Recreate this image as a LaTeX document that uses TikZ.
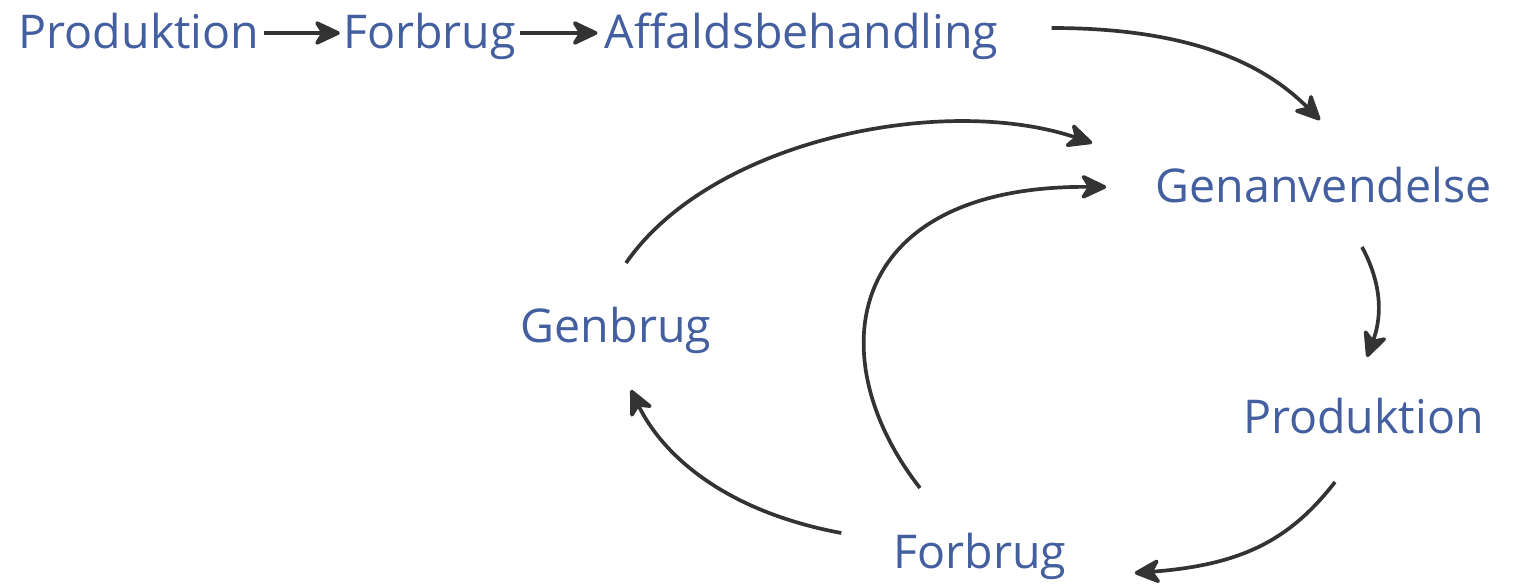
\documentclass[tikz,border=0pt]{standalone}
\usepackage{fontspec}
\setmainfont{Open Sans}
\usetikzlibrary{arrows.meta}

\definecolor{termblue}{RGB}{67,95,160}
\definecolor{arrowgray}{RGB}{51,51,51}

\begin{document}
\begin{tikzpicture}[
    x=0.02cm, y=-0.02cm,
    flow/.style={-{Stealth[length=17pt, width=16pt, inset=5pt, round]}, line width=2.1pt, draw=arrowgray},
    term/.style={inner sep=0pt, anchor=base, text=termblue, font=\fontsize{26.5pt}{31pt}\selectfont},
]
\useasboundingbox (0,0) rectangle (1514,584);

% ===================== LINEAR CHAIN =====================
\node[term] (prodA) at (139, 49) {Produktion};
\node[term] (forbA) at (429.5, 49) {Forbrug};
\node[term] (affald) at (801.5, 49) {Affaldsbehandling};

\draw[flow] ([shift={(4,-16)}]prodA.base east) -- ([shift={(-3,-16)}]forbA.base west);
\draw[flow] ([shift={(4,-16)}]forbA.base east) -- ([shift={(-7,-16)}]affald.base west);

% ===================== CIRCULAR LOOP =====================
\node[term] (genanv) at (1323.5, 203) {Genanvendelse};
\node[term] (prodB) at (1363.5, 433) {Produktion};
\node[term] (forbB) at (980, 568) {Forbrug};
\node[term] (genbrug) at (616, 342) {Genbrug};

% chain -> loop
\draw[flow] ([shift={(53,-21)}]affald.base east)
    .. controls +(150,0) and +(-50,-50) .. ([shift={(-3.5,-83)}]genanv.base);

% loop arrows
\draw[flow] ([shift={(38.5,44)}]genanv.base)
    .. controls +(23,43) and +(13,-35) .. ([shift={(3.5,-76)}]prodB.base);
\draw[flow] ([shift={(-28.5,49)}]prodB.base)
    .. controls +(-45,58) and +(107,-8) .. ([shift={(68,5)}]forbB.base east);
\draw[flow] ([shift={(-52,-35)}]forbB.base west)
    .. controls +(-123,-23) and +(29,60) .. ([shift={(15,48)}]genbrug.base);
\draw[flow] ([shift={(10,-79)}]genbrug.base)
    .. controls +(85,-123) and +(-149,-50) .. ([shift={(-63,-60)}]genanv.base west);
\draw[flow] ([shift={(-60,-80)}]forbB.base)
    .. controls +(-102,-130) and +(-263,-2) .. ([shift={(-49,-16)}]genanv.base west);

\end{tikzpicture}
\end{document}
